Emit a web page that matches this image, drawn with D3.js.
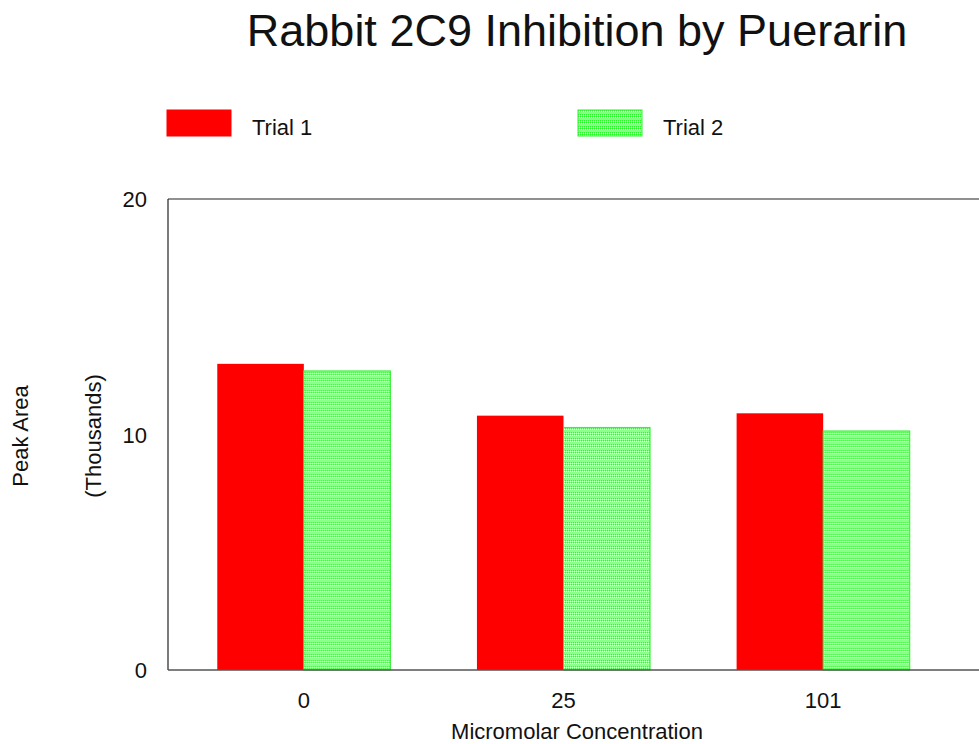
<html lang="en">
<head>
    <meta charset="UTF-8">
    <title>Rabbit 2C9 Inhibition by Puerarin</title>
    <script src="https://d3js.org/d3.v7.min.js"></script>
    <style>
        body { margin: 0; background: #fff; }
        text { font-family: "Liberation Sans", Arial, sans-serif; fill: #111; }
    </style>
</head>
<body>
    <svg width="979" height="744"></svg>
    <script>
        // chart data
        var concentrations = ["0", "25", "101"];
        var seriesNames = ["Trial 1", "Trial 2"];
        var trial1 = [13.0, 10.8, 10.9];
        var trial2 = [12.7, 10.3, 10.15];
        var yTicks = [0, 10, 20];

        var svg = d3.select("svg");
        var plotLeft = 168, plotTop = 199, plotBottom = 670, plotRight = 979;

        // green checker pattern for trial 2
        var defs = svg.append("defs");
        var pat = defs.append("pattern")
            .attr("id", "greenHatch")
            .attr("patternUnits", "userSpaceOnUse")
            .attr("width", 4).attr("height", 6);
        pat.append("rect").attr("width", 4).attr("height", 6).attr("fill", "#8cff8c");
        [[0, 0], [2, 0], [0, 2], [2, 2]].forEach(function (p) {
            pat.append("rect").attr("x", p[0]).attr("y", p[1]).attr("width", 1).attr("height", 1).attr("fill", "#22ff22");
        });
        [[1, 1], [3, 1], [1, 3], [3, 3]].forEach(function (p) {
            pat.append("rect").attr("x", p[0]).attr("y", p[1]).attr("width", 1).attr("height", 1).attr("fill", "#ffffff");
        });

        var colors = ["#ff0000", "url(#greenHatch)"];
        var strokes = ["#ff0000", "#33ee33"];

        var xScale = d3.scaleBand().domain(concentrations).range([174, 953])
            .paddingInner(1 / 3).paddingOuter(1 / 6);
        var xInner = d3.scaleBand().domain(seriesNames).range([0, xScale.bandwidth()]);
        var yScale = d3.scaleLinear().domain([0, 20]).range([plotBottom, plotTop]);

        // title
        svg.append("text")
            .attr("x", 577).attr("y", 46)
            .attr("text-anchor", "middle")
            .style("font-size", "45px")
            .text("Rabbit 2C9 Inhibition by Puerarin");

        // legend
        var legendX = [167, 578];
        seriesNames.forEach(function (name, i) {
            svg.append("rect")
                .attr("x", legendX[i]).attr("y", 110)
                .attr("width", 64).attr("height", 26)
                .attr("fill", colors[i])
                .attr("stroke", strokes[i]).attr("stroke-width", 1);
            svg.append("text")
                .attr("x", legendX[i] + 85).attr("y", 135)
                .style("font-size", "22px")
                .text(name);
        });

        // bars
        var data = concentrations.map(function (c, i) {
            return { cat: c, values: [trial1[i], trial2[i]] };
        });
        var groups = svg.selectAll(".grp").data(data).enter().append("g")
            .attr("class", "grp")
            .attr("transform", function (d) { return "translate(" + xScale(d.cat) + ",0)"; });
        groups.selectAll("rect")
            .data(function (d) { return d.values.map(function (v, i) { return { name: seriesNames[i], v: v, i: i }; }); })
            .enter().append("rect")
            .attr("x", function (d) { return xInner(d.name); })
            .attr("y", function (d) { return yScale(d.v); })
            .attr("width", xInner.bandwidth())
            .attr("height", function (d) { return plotBottom - yScale(d.v); })
            .attr("fill", function (d) { return colors[d.i]; })
            .attr("stroke", function (d) { return strokes[d.i]; })
            .attr("stroke-width", function (d) { return d.i === 1 ? 1 : 0; });

        // frame lines (left, top, bottom)
        svg.append("line").attr("x1", plotLeft).attr("x2", plotLeft).attr("y1", plotTop).attr("y2", plotBottom)
            .attr("stroke", "#222").attr("stroke-width", 1.2);
        svg.append("line").attr("x1", plotLeft).attr("x2", plotRight).attr("y1", plotTop).attr("y2", plotTop)
            .attr("stroke", "#222").attr("stroke-width", 1.2);
        svg.append("line").attr("x1", plotLeft).attr("x2", plotRight).attr("y1", plotBottom).attr("y2", plotBottom)
            .attr("stroke", "#555").attr("stroke-width", 1.5);

        // y tick labels
        svg.selectAll(".ytick").data(yTicks).enter().append("text")
            .attr("class", "ytick")
            .attr("x", 147).attr("y", function (d) { return yScale(d) + 8; })
            .attr("text-anchor", "end")
            .style("font-size", "22px")
            .text(function (d) { return d; });

        // x tick labels
        svg.selectAll(".xtick").data(concentrations).enter().append("text")
            .attr("class", "xtick")
            .attr("x", function (d) { return xScale(d) + xScale.bandwidth() / 2; })
            .attr("y", 708)
            .attr("text-anchor", "middle")
            .style("font-size", "22px")
            .text(function (d) { return d; });

        // axis titles
        svg.append("text")
            .attr("x", 577).attr("y", 739)
            .attr("text-anchor", "middle")
            .style("font-size", "22px")
            .text("Micromolar Concentration");
        svg.append("text")
            .attr("transform", "translate(28,436) rotate(-90)")
            .attr("text-anchor", "middle")
            .style("font-size", "22px")
            .text("Peak Area");
        svg.append("text")
            .attr("transform", "translate(101,436) rotate(-90)")
            .attr("text-anchor", "middle")
            .style("font-size", "22px")
            .text("(Thousands)");
    </script>
</body>
</html>
